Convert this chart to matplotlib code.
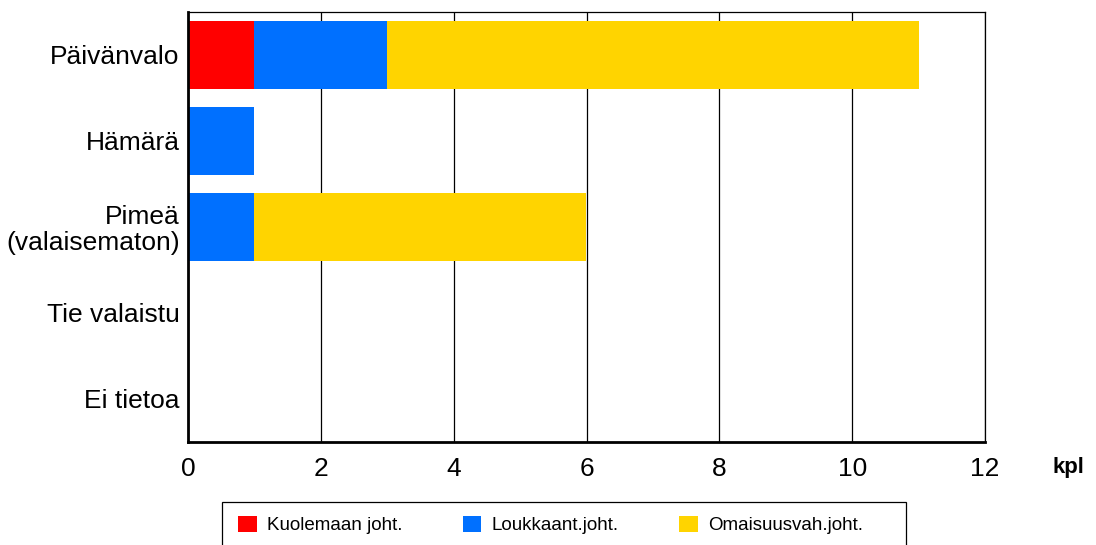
import numpy as np
import matplotlib
matplotlib.use('Agg')
import matplotlib.pyplot as plt
from matplotlib.patches import Rectangle

plt.rcParams['font.family'] = ['Liberation Sans', 'DejaVu Sans']

categories = ['Päivänvalo', 'Hämärä', 'Pimeä\n(valaisematon)', 'Tie valaistu', 'Ei tietoa']
series_names = ['Kuolemaan joht.', 'Loukkaant.joht.', 'Omaisuusvah.joht.']
kuolemaan = [1, 0, 0, 0, 0]
loukkaant = [2, 1, 1, 0, 0]
omaisuus = [8, 0, 5, 0, 0]
colors = ['#FF0000', '#0070FF', '#FFD400']
x_ticks = [0, 2, 4, 6, 8, 10, 12]

W, H = 1096, 545
fig = plt.figure(figsize=(W/100, H/100), dpi=100)
ax = fig.add_axes([188/W, (H-442)/H, (985-188)/W, 430/H])

y = np.arange(len(categories))
left = np.zeros(len(categories))
for vals, name, c in zip([kuolemaan, loukkaant, omaisuus], series_names, colors):
    ax.barh(y, vals, left=left, height=0.8, color=c, label=name, zorder=2)
    left += np.array(vals)

ax.set_xlim(0, 12)
ax.set_ylim(len(categories)-0.5, -0.5)
ax.set_xticks(x_ticks)
ax.set_xticklabels([str(t) for t in x_ticks], fontsize=19)
ax.set_yticks(y)
ax.set_yticklabels(categories, fontsize=19, linespacing=1.1)
ax.tick_params(axis='y', length=0, pad=6)
ax.tick_params(axis='x', length=0, pad=11)
ax.xaxis.grid(True, color='black', linewidth=0.9, zorder=1)
ax.set_axisbelow(True)
for s in ['top', 'right']:
    ax.spines[s].set_linewidth(0.9)
for s in ['left', 'bottom']:
    ax.spines[s].set_linewidth(2)
    ax.spines[s].set_zorder(3)

fig.text(1068/W, (H-467)/H, 'kpl', fontsize=16, fontweight='bold',
         ha='center', va='center')

# legend box, cut off at the bottom edge
fig.patches.append(Rectangle((222/W, -0.05), (906-222)/W, (H-502)/H + 0.05,
                             transform=fig.transFigure, fill=False,
                             edgecolor='black', linewidth=0.9))
handles, labels = ax.get_legend_handles_labels()
fig.legend(handles, labels, ncol=3, frameon=False, fontsize=13.5,
           loc='center left', bbox_to_anchor=(238/W, (H-525)/H),
           borderpad=0, borderaxespad=0, handlelength=1.0, handleheight=1.0,
           handletextpad=0.55, columnspacing=3.2)

fig.savefig('out.png', dpi=100)
